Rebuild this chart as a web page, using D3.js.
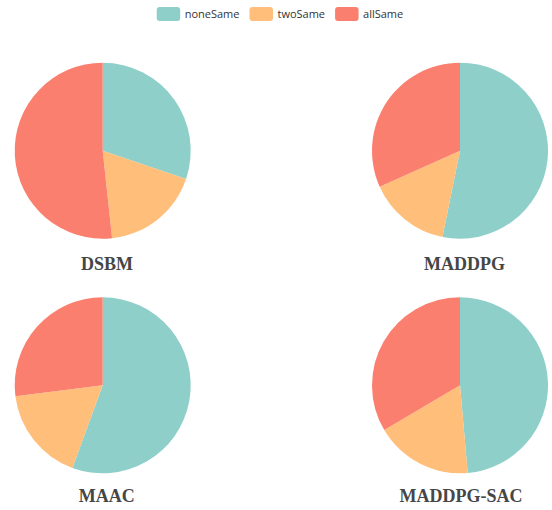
<!DOCTYPE html>
<html><head><meta charset="utf-8">
<script src="https://cdn.jsdelivr.net/npm/d3@7/dist/d3.min.js"></script>
<style>html,body{margin:0;padding:0;background:#fff;}svg{display:block;}</style>
</head><body>
<svg id="chart" width="552" height="510"></svg>
<script>
const categories = ["noneSame", "twoSame", "allSame"];
const colors = ["#8ECFC9", "#FFBE7A", "#FA7F6F"];
const methods = ["DSBM", "MADDPG", "MAAC", "MADDPG-SAC"];
const dsbmValues = [30.2, 18.1, 51.7];
const maddpgValues = [53.2, 15.1, 31.7];
const maacValues = [55.6, 17.4, 27.0];
const maddpgSacValues = [48.6, 17.9, 33.5];
const seriesValues = [dsbmValues, maddpgValues, maacValues, maddpgSacValues];

const svg = d3.select("#chart");
const radius = 88;
const centers = [[102.7, 150.7], [460, 150.7], [102.7, 385.3], [460, 385.3]];
const titlePos = [[107, 269.5], [464.5, 269.5], [106.7, 502], [461, 502]];

const pie = d3.pie().sort(null).value(d => d.v);
const arc = d3.arc().innerRadius(0).outerRadius(radius);
const color = d3.scaleOrdinal().domain(categories).range(colors);

seriesValues.forEach((vals, i) => {
  const data = categories.map((c, j) => ({c, v: vals[j]}));
  const g = svg.append("g").attr("transform", `translate(${centers[i][0]},${centers[i][1]})`);
  g.selectAll("path").data(pie(data)).join("path")
    .attr("d", arc).attr("fill", d => color(d.data.c));
  svg.append("text")
    .attr("x", titlePos[i][0]).attr("y", titlePos[i][1])
    .attr("text-anchor", "middle")
    .attr("font-family", "'Liberation Serif', 'Times New Roman', serif")
    .attr("font-weight", "bold").attr("font-size", 18)
    .attr("fill", "#464646")
    .text(methods[i]);
});

// legend
const lg = svg.append("g");
let x = 156.7;
categories.forEach((c, i) => {
  lg.append("rect").attr("x", x).attr("y", 7).attr("width", 23.5).attr("height", 14)
    .attr("rx", 3).attr("fill", color(c));
  const t = lg.append("text").attr("x", x + 28).attr("y", 14).attr("dy", "0.35em")
    .attr("font-family", "'Open Sans', 'Noto Sans', sans-serif").attr("font-size", 11)
    .attr("fill", "#333").text(c);
  x += 28 + t.node().getComputedTextLength() + 10;
});
</script>
</body></html>
